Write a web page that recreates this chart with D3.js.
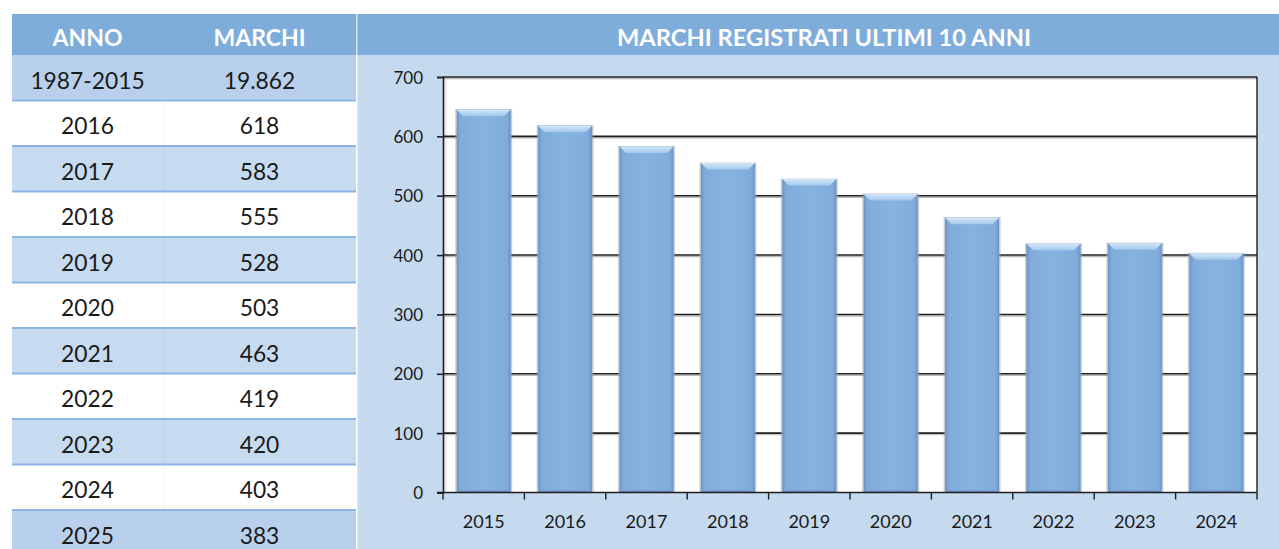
<!DOCTYPE html>
<html><head><meta charset="utf-8">
<script src="https://cdn.jsdelivr.net/npm/d3@7"></script>
<style>
html,body{margin:0;padding:0;background:#fff;}
svg{display:block;font-family:Lato,"Open Sans",sans-serif;}
</style></head>
<body>
<svg id="c" width="1279" height="549"></svg>
<script>
// ---- data ----
const tableYears  = ["1987-2015","2016","2017","2018","2019","2020","2021","2022","2023","2024","2025"];
const tableValues = ["19.862","618","583","555","528","503","463","419","420","403","383"];
const chartYears  = ["2015","2016","2017","2018","2019","2020","2021","2022","2023","2024"];
const chartValues = [645,618,583,555,528,503,463,419,420,403];
const yTicks      = [0,100,200,300,400,500,600,700];
const headers     = ["ANNO","MARCHI"];
const chartTitle  = "MARCHI REGISTRATI ULTIMI 10 ANNI";

// ---- layout ----
const W=1279,H=549;
const svg=d3.select("#c");
const defs=svg.append("defs");
const headerBlue="#7eaddc", panelBlue="#c5d9ef", rowLight="#c6daf0", rowDark="#b9d0ec", sepBlue="#8db5e3";
const tX0=12, tX1=356, colDiv=163, headY0=14, headY1=55, rowH=45.5;

// header strip
svg.append("rect").attr("x",tX0).attr("y",headY0).attr("width",W-tX0).attr("height",headY1-headY0).attr("fill",headerBlue);
svg.append("rect").attr("x",tX1).attr("y",headY0).attr("width",1.5).attr("height",headY1-headY0).attr("fill","#d4e3f4");
// chart panel
svg.append("rect").attr("x",tX1+1.5).attr("y",headY1).attr("width",W-tX1).attr("height",H-headY1).attr("fill",panelBlue);

// table header text
const colCenters=[(tX0+colDiv)/2,(colDiv+tX1)/2];
svg.selectAll("text.hd").data(headers).join("text").attr("class","hd")
  .attr("x",(d,i)=>colCenters[i]).attr("y",46).attr("text-anchor","middle")
  .attr("fill","#fff").attr("font-weight","bold").attr("font-size",23).text(d=>d);
svg.append("text").attr("x",824).attr("y",46).attr("text-anchor","middle")
  .attr("fill","#fff").attr("font-weight","bold").attr("font-size",23.7).text(chartTitle);

// table rows
const rows=svg.append("g").selectAll("g").data(tableYears).join("g")
  .attr("transform",(d,i)=>`translate(0,${headY1+i*rowH})`);
rows.append("rect").attr("x",tX0).attr("y",0).attr("width",tX1-tX0).attr("height",rowH)
  .attr("fill",(d,i)=> (i===0||i===tableYears.length-1)?rowDark:(i%2===1?"#ffffff":rowLight));
rows.append("rect").attr("x",colDiv).attr("y",0).attr("width",1).attr("height",rowH)
  .attr("fill",(d,i)=> i%2===1&&i!==tableYears.length-1?"#eef3fa":"#b7cde9").attr("opacity",0.6);
rows.filter((d,i)=>i>0).append("rect").attr("x",tX0).attr("y",-1).attr("width",tX1-tX0).attr("height",2).attr("fill",sepBlue);
rows.append("text").attr("x",colCenters[0]).attr("y",rowH/2+11).attr("text-anchor","middle")
  .attr("font-size",22.8).attr("fill","#1a1a1a").text(d=>d);
rows.append("text").attr("x",colCenters[1]).attr("y",rowH/2+11).attr("text-anchor","middle")
  .attr("font-size",22.8).attr("fill","#1a1a1a").text((d,i)=>tableValues[i]);

// ---- chart ----
const px0=443, px1=1257, py0=77, py1=492.5;
const x=d3.scaleBand().domain(chartYears).range([px0,px1]).paddingInner(0.337).paddingOuter(0.1685);
const y=d3.scaleLinear().domain([0,700]).range([py1,py0]);

// plot background
svg.append("rect").attr("x",px0).attr("y",py0).attr("width",px1-px0).attr("height",py1-py0).attr("fill","#ffffff");
svg.append("rect").attr("x",px0+1).attr("y",py0+1).attr("width",3).attr("height",py1-py0-1).attr("fill","#eeeeee");

// gridlines
const grid=svg.append("g");
grid.selectAll("line.gs").data(yTicks.filter(t=>t>0)).join("line").attr("class","gs")
  .attr("x1",px0).attr("x2",px1).attr("y1",d=>y(d)+1.6).attr("y2",d=>y(d)+1.6)
  .attr("stroke","#b8b8b8").attr("stroke-width",1.2);
grid.selectAll("line.g").data(yTicks.filter(t=>t>0)).join("line").attr("class","g")
  .attr("x1",px0).attr("x2",px1).attr("y1",d=>y(d)).attr("y2",d=>y(d))
  .attr("stroke","#1e1e1e").attr("stroke-width",1.6);
// right border
svg.append("line").attr("x1",px1).attr("x2",px1).attr("y1",py0).attr("y2",py1).attr("stroke","#1e1e1e").attr("stroke-width",1.4);

// gradients for bars
const gBody=defs.append("linearGradient").attr("id","gBody").attr("x1","0").attr("x2","1").attr("y1","0").attr("y2","0");
[[0,"#6a94c6"],[0.07,"#80acdb"],[0.5,"#87b3e0"],[0.93,"#80acdb"],[1,"#6a94c6"]].forEach(s=>gBody.append("stop").attr("offset",s[0]).attr("stop-color",s[1]));
const gTop=defs.append("linearGradient").attr("id","gTop").attr("x1","0").attr("x2","0").attr("y1","0").attr("y2","1");
[[0,"#d2e6f8"],[1,"#a4c8ec"]].forEach(s=>gTop.append("stop").attr("offset",s[0]).attr("stop-color",s[1]));
const gBot=defs.append("linearGradient").attr("id","gBot").attr("x1","0").attr("x2","0").attr("y1","0").attr("y2","1");
[[0,"#7fa9d8"],[1,"#6189bb"]].forEach(s=>gBot.append("stop").attr("offset",s[0]).attr("stop-color",s[1]));

const bars=svg.append("g").selectAll("g").data(chartValues).join("g");
const bw=x.bandwidth(), bev=6.5;
bars.append("rect").attr("x",(d,i)=>x(chartYears[i])-1.5).attr("y",d=>y(d)-0.5)
  .attr("width",bw+3).attr("height",d=>py1-y(d)+0.5).attr("fill","#9aa4b0").attr("opacity",0.55);
bars.append("rect").attr("x",(d,i)=>x(chartYears[i])).attr("y",d=>y(d))
  .attr("width",bw).attr("height",d=>py1-y(d)).attr("fill","url(#gBody)");
bars.append("path").attr("fill","url(#gTop)").attr("d",(d,i)=>{
  const x0=x(chartYears[i]), yt=y(d);
  return `M${x0},${yt}L${x0+bw},${yt}L${x0+bw-bev},${yt+bev}L${x0+bev},${yt+bev}Z`;});
bars.append("path").attr("fill","url(#gBot)").attr("opacity",0.8).attr("d",(d,i)=>{
  const x0=x(chartYears[i]);
  return `M${x0+3},${py1-3}L${x0+bw-3},${py1-3}L${x0+bw},${py1}L${x0},${py1}Z`;});

// axes
const yAxis=d3.axisLeft(y).tickValues(yTicks).tickSize(6).tickPadding(14);
const gy=svg.append("g").attr("transform",`translate(${px0},0)`).call(yAxis);
gy.select(".domain").attr("stroke","#1e1e1e").attr("stroke-width",1.6);
gy.selectAll(".tick line").attr("stroke","#1e1e1e").attr("stroke-width",1.6);
gy.selectAll(".tick text").attr("font-size",17).attr("fill","#1a1a1a").attr("font-family","Lato,'Open Sans',sans-serif").attr("dy","0.36em");

const gx=svg.append("g").attr("transform",`translate(0,${py1})`);
gx.append("line").attr("x1",px0-6).attr("x2",px1).attr("y1",0).attr("y2",0).attr("stroke","#1e1e1e").attr("stroke-width",1.6);
const bounds=chartYears.map(c=>x(c)-x.step()*x.paddingInner()/2).concat([px1]);
gx.selectAll("line.t").data(bounds).join("line").attr("class","t")
  .attr("x1",d=>d).attr("x2",d=>d).attr("y1",0).attr("y2",7).attr("stroke","#1e1e1e").attr("stroke-width",1.4);
gx.selectAll("text").data(chartYears).join("text")
  .attr("x",d=>x(d)+bw/2).attr("y",35.5).attr("text-anchor","middle")
  .attr("font-size",18).attr("fill","#1a1a1a").text(d=>d);
</script>
</body></html>
